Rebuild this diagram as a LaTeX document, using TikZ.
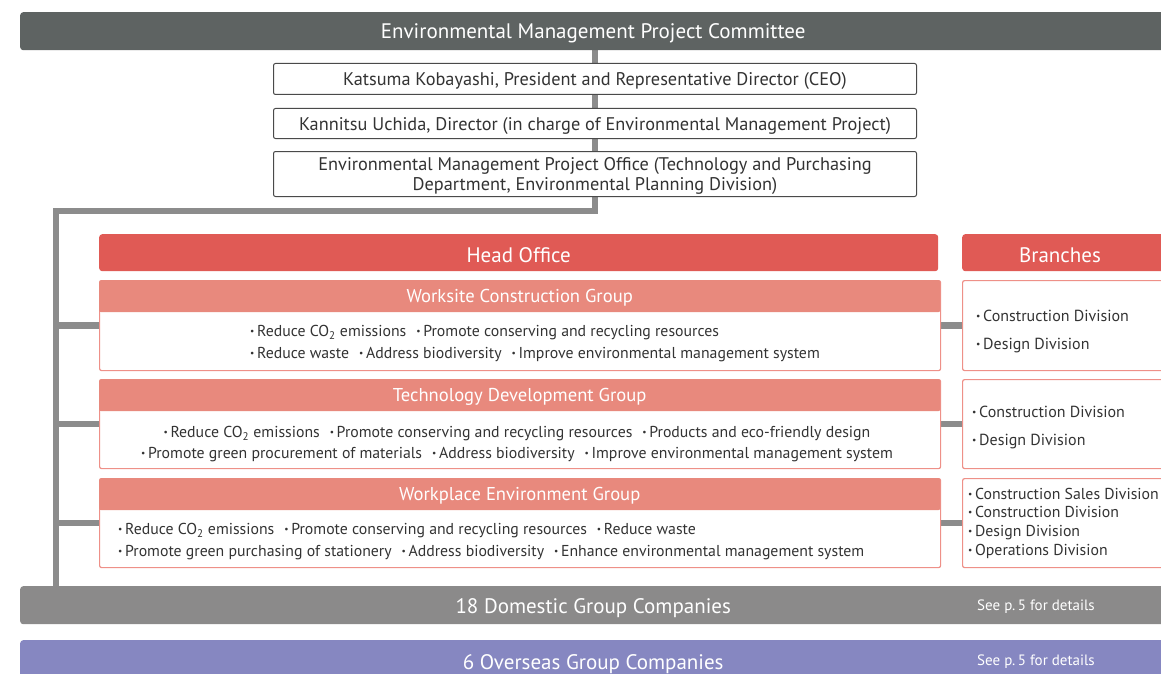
\documentclass[tikz,border=0pt]{standalone}
\usepackage{fontspec}
\setmainfont{PT Sans}
\usetikzlibrary{backgrounds}
\definecolor{cmtgray}{HTML}{5E6362}
\definecolor{linkgray}{HTML}{8C8C8C}
\definecolor{domgray}{HTML}{8B8A8A}
\definecolor{ovsblue}{HTML}{8687C1}
\definecolor{hoRed}{HTML}{E05A55}
\definecolor{grpSalmon}{HTML}{E8897D}
\definecolor{grpEdge}{HTML}{EE9088}
\definecolor{boxEdge}{HTML}{4A4A4A}
\definecolor{txt}{HTML}{333333}
\newcommand\bul{\raisebox{0.25ex}{\scalebox{0.6}{•}}\,}
\newcommand\gap{\hspace{10pt}}
\begin{document}
\begin{tikzpicture}[x=1pt,y=-1pt,
  bar/.style={rectangle, rounded corners=3pt, inner sep=0pt, anchor=north west},
  wtext/.style={text=white, inner sep=0pt},
  big/.style={font=\fontsize{21}{24}\selectfont},
  topbox/.style={rectangle, rounded corners=2pt, draw=boxEdge, line width=1pt, fill=white,
    anchor=north west, minimum width=643pt, inner sep=0pt},
  toptext/.style={text=txt, inner sep=0pt, align=center, font=\fontsize{18.3}{20}\selectfont},
  frame/.style={rectangle, rounded corners=2pt, draw=grpEdge, line width=1.2pt, fill=white,
    anchor=north west, inner sep=0pt},
  grphead/.style={rectangle, rounded corners=2pt, fill=grpSalmon, anchor=north west,
    inner sep=0pt, minimum width=841pt, minimum height=32pt},
  headtext/.style={wtext, font=\fontsize{18.6}{20}\selectfont},
  body/.style={text=txt, inner sep=0pt, font=\fontsize{15.8}{21.5}\selectfont},
  brlist/.style={text=txt, inner sep=0pt, anchor=west, align=left},
  note/.style={wtext, anchor=west, font=\fontsize{15}{16}\selectfont},
  conn/.style={draw=linkgray, line width=6.5pt}]
\useasboundingbox (0,0) rectangle (1161,674);
\clip (0,0) rectangle (1161,674);

% committee and its members
\node[bar, fill=cmtgray, minimum width=1146pt, minimum height=38pt] (cmt) at (20,12) {};
\node[wtext, big] at ([yshift=-2pt]cmt.center) {Environmental Management Project Committee};
\node[topbox, minimum height=31pt] (ceo) at (273,63) {};
\node[toptext] at ([yshift=-2pt]ceo.center)
  {Katsuma Kobayashi, President and Representative Director (CEO)};
\node[topbox, minimum height=30pt] (dir) at (273,108) {};
\node[toptext] at ([yshift=-2pt]dir.center)
  {Kannitsu Uchida, Director (in charge of Environmental Management Project)};
\node[topbox, minimum height=45pt] (off) at (273,151) {};
\node[toptext] at ([yshift=-1.5pt]off.center)
  {Environmental Management Project Office (Technology and Purchasing\\Department, Environmental Planning Division)};

% head office and branches headers
\node[bar, fill=hoRed, minimum width=839pt, minimum height=37pt] (ho) at (99,234) {};
\node[wtext, big] at ([yshift=-2pt]ho.center) {Head Office};
\node[bar, fill=hoRed, minimum width=220pt, minimum height=37pt] (br) at (962,234) {};
\node[wtext, big] at (1060,255) {Branches};

% group frames and their headers
\node[frame, minimum width=841pt, minimum height=90pt] (g1) at (99,280) {};
\node[frame, minimum width=841pt, minimum height=89pt] (g2) at (99,379) {};
\node[frame, minimum width=841pt, minimum height=89pt] (g3) at (99,478) {};
\node[grphead] (h1) at (99,280) {};
\node[grphead] (h2) at (99,379) {};
\node[grphead] (h3) at (99,478) {};
\node[headtext] at ([yshift=-2pt]h1.center) {Worksite Construction Group};
\node[headtext] at ([yshift=-2pt]h2.center) {Technology Development Group};
\node[headtext] at ([yshift=-2pt]h3.center) {Workplace Environment Group};

\node[body, anchor=west, align=left] (t1) at (250,343.5)
  {\bul Reduce CO\textsubscript{2} emissions\gap\bul Promote conserving and recycling resources\\
   \bul Reduce waste\gap\bul Address biodiversity\gap\bul Improve environmental management system};
\node[body, align=center] (t2) at (517,444)
  {\bul Reduce CO\textsubscript{2} emissions\gap\bul Promote conserving and recycling resources\gap\bul Products and eco-friendly design\\
   \bul Promote green procurement of materials\gap\bul Address biodiversity\gap\bul Improve environmental management system};
\node[body, anchor=west, align=left] (t3) at (118,541.5)
  {\bul Reduce CO\textsubscript{2} emissions\gap\bul Promote conserving and recycling resources\gap\bul Reduce waste\\
   \bul Promote green purchasing of stationery\gap\bul Address biodiversity\gap\bul Enhance environmental management system};

% branch frames
\node[frame, minimum width=220pt, minimum height=90pt] (b1) at (962,280) {};
\node[frame, minimum width=220pt, minimum height=89pt] (b2) at (962,379) {};
\node[frame, minimum width=220pt, minimum height=89pt] (b3) at (962,478) {};
\node[brlist, font=\fontsize{16}{28}\selectfont] (l1) at (976,331)
  {\bul Construction Division\\\bul Design Division};
\node[brlist, font=\fontsize{16}{28}\selectfont] (l2) at (972,427)
  {\bul Construction Division\\\bul Design Division};
\node[brlist, font=\fontsize{15.8}{18.7}\selectfont] (l3) at (968,523)
  {\bul Construction Sales Division\\\bul Construction Division\\\bul Design Division\\\bul Operations Division};

% group companies
\node[bar, fill=domgray, minimum width=1146pt, minimum height=38pt] (dom) at (20,586) {};
\node[wtext, big] at ([yshift=-2.5pt]dom.center) {18 Domestic Group Companies};
\node[note] at (977,607) {See p.\,5 for details};
\node[bar, fill=ovsblue, minimum width=1146pt, minimum height=44pt] (ovs) at (20,640) {};
\node[wtext, big] at ([yshift=-2pt]ovs.center) {6 Overseas Group Companies};
\node[note] at (977,662) {See p.\,5 for details};

% connectors
\coordinate (tr) at (595,211);
\coordinate (lt) at (56,211);
\begin{scope}[on background layer]
  \draw[conn] (cmt.south -| tr) -- (tr) -- (lt) -- (lt |- dom.north);
  \draw[conn] (lt |- g1.west) -- (g1.west);
  \draw[conn] (lt |- g2.west) -- (g2.west);
  \draw[conn] (lt |- g3.west) -- (g3.west);
  \draw[conn] (g1.east) -- (g1.east -| b1.west);
  \draw[conn] (g2.east) -- (g2.east -| b2.west);
  \draw[conn] (g3.east) -- (g3.east -| b3.west);
\end{scope}
\end{tikzpicture}
\end{document}
